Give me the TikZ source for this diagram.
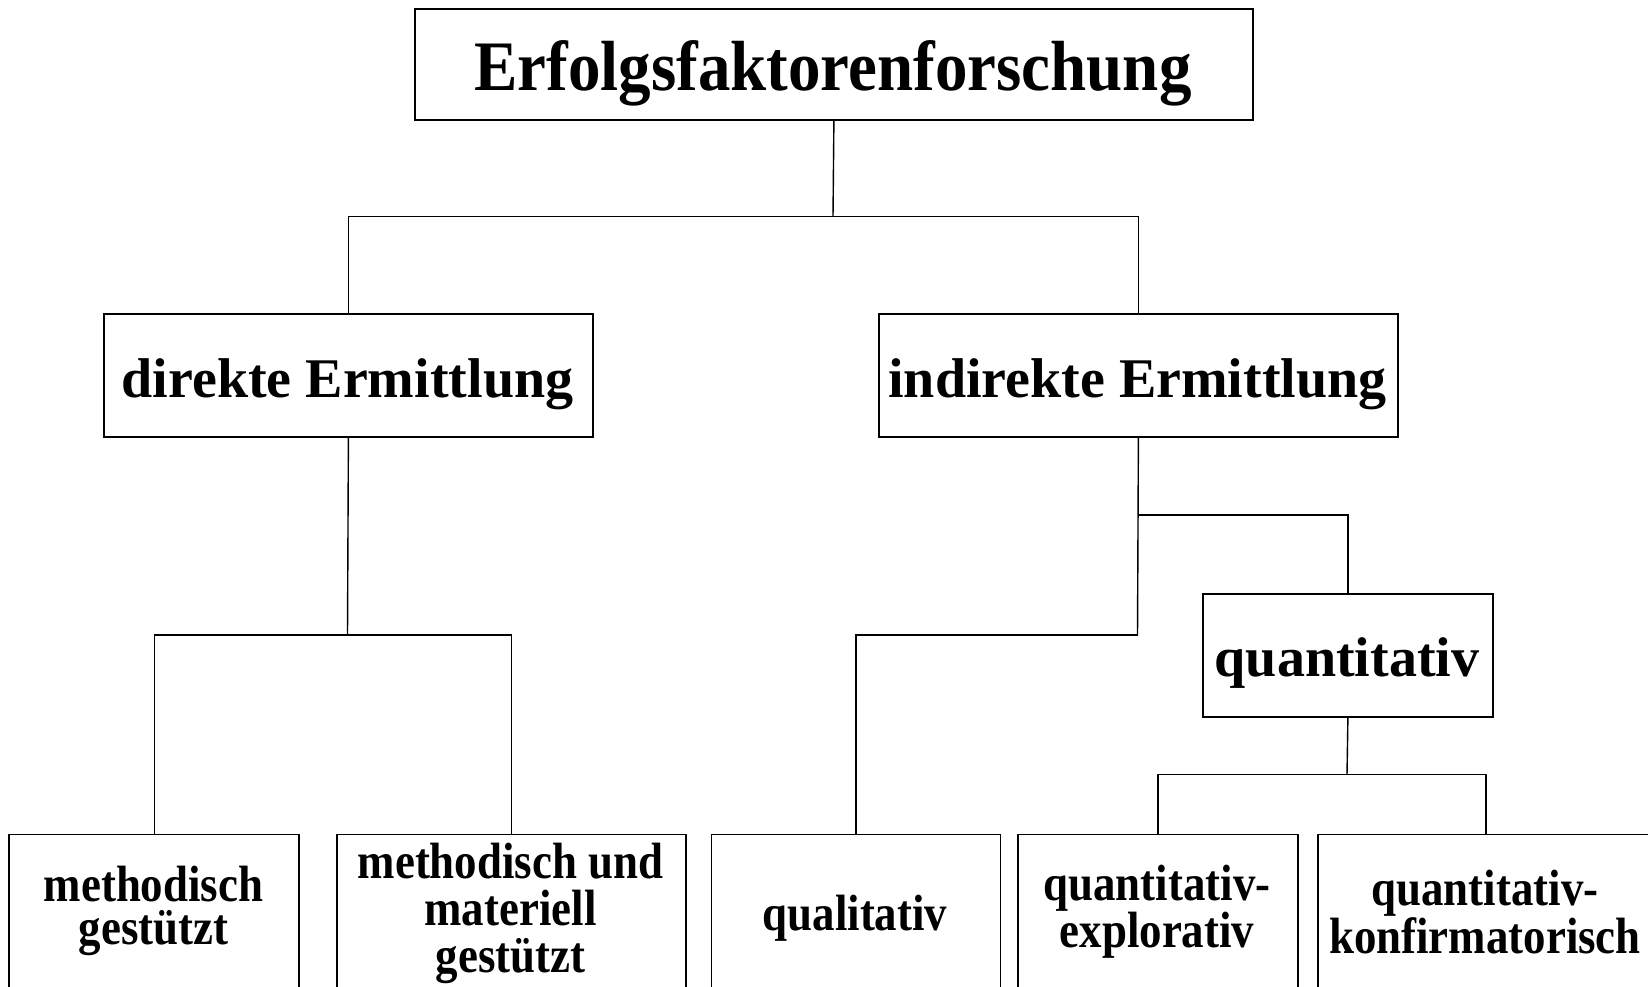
\documentclass[tikz,border=0pt]{standalone}
\usepackage{fontspec}
\setmainfont{Liberation Serif}
% narrower cuts of the same serif for the title and the leaf labels
\newfontfamily\titlefont{Liberation Serif}[FakeStretch=0.915]
\newfontfamily\leaffont{Liberation Serif}[FakeStretch=0.88]
\begin{document}
\begin{tikzpicture}[x=1pt,y=-1pt,
  box/.style={draw=black, line width=1.8pt, inner sep=0pt, anchor=north west},
  link/.style={draw=black, line width=1.4pt},
  title/.style={anchor=base, inner sep=0pt, font=\titlefont\bfseries\fontsize{71}{80}\selectfont},
  mid/.style={anchor=base, inner sep=0pt, font=\bfseries\fontsize{56}{64}\selectfont},
  leaf/.style={anchor=center, inner sep=0pt, align=center,
    font=\leaffont\bfseries\fontsize{51}{43.5}\selectfont}]
\useasboundingbox (0,0) rectangle (1648,987);
\clip (0,0) rectangle (1648,987);

% level 0
\node[box, minimum width=838pt, minimum height=111pt] (top) at (414,8) {};
\node[title] (toptext) at (833,90.4) {Erfolgsfaktorenforschung};

% level 1
\node[box, minimum width=489pt, minimum height=123pt] (dir) at (103,313) {};
\node[mid] (dirtext) at (347.5,397) {direkte Ermittlung};
\node[box, minimum width=519pt, minimum height=123pt] (ind) at (878,313) {};
\node[mid] (indtext) at (1137.5,397) {indirekte Ermittlung};

% level 2
\node[box, minimum width=290pt, minimum height=123pt] (quant) at (1202,593) {};
\node[mid] (quanttext) at (1347,676) {quantitativ};

% leaves (run past the lower edge)
\node[box, minimum width=290pt, minimum height=220pt] (b1) at (8.4,833.5) {};
\node[box, minimum width=349pt, minimum height=220pt] (b2) at (336,833.5) {};
\node[box, minimum width=289pt, minimum height=220pt] (b3) at (710.5,833.5) {};
\node[box, minimum width=280pt, minimum height=220pt] (b4) at (1017,833.5) {};
\node[box, minimum width=336pt, minimum height=220pt] (b5) at (1317,833.5) {};
\node[leaf] (b1text) at (153.5,911) {methodisch\\gestützt};
\node[leaf] (b2text) at (510.5,913) {methodisch und\\[3.5pt]materiell\\[3.5pt]gestützt};
\node[leaf] (b3text) at (855,918) {qualitativ};
\node[leaf] (b4text) at (1157,912) {quantitativ-\\explorativ};
\node[leaf] (b5text) at (1485,912) {quantitativ-\\konfirmatorisch};

% junctions
\coordinate (j1) at (833,216.5);
\coordinate (j2) at (347.5,635);
\coordinate (j3) at (1137.5,515);
\coordinate (j4) at (1137.5,635);
\coordinate (j5) at (1347,774.6);

% connectors
\draw[link] (top.south) -- (j1);
\draw[link] (dir.north) |- (j1) -| (ind.north);
\draw[link] (dir.south) -- (j2);
\draw[link] (b1.north) |- (j2) -| (b2.north);
\draw[link] (ind.south) -- (j4);
\draw[link] (j3) -| (quant.north);
\draw[link] (j4) -| (b3.north);
\draw[link] (quant.south) -- (j5);
\draw[link] (b4.north) |- (j5) -| (b5.north);
\end{tikzpicture}
\end{document}
